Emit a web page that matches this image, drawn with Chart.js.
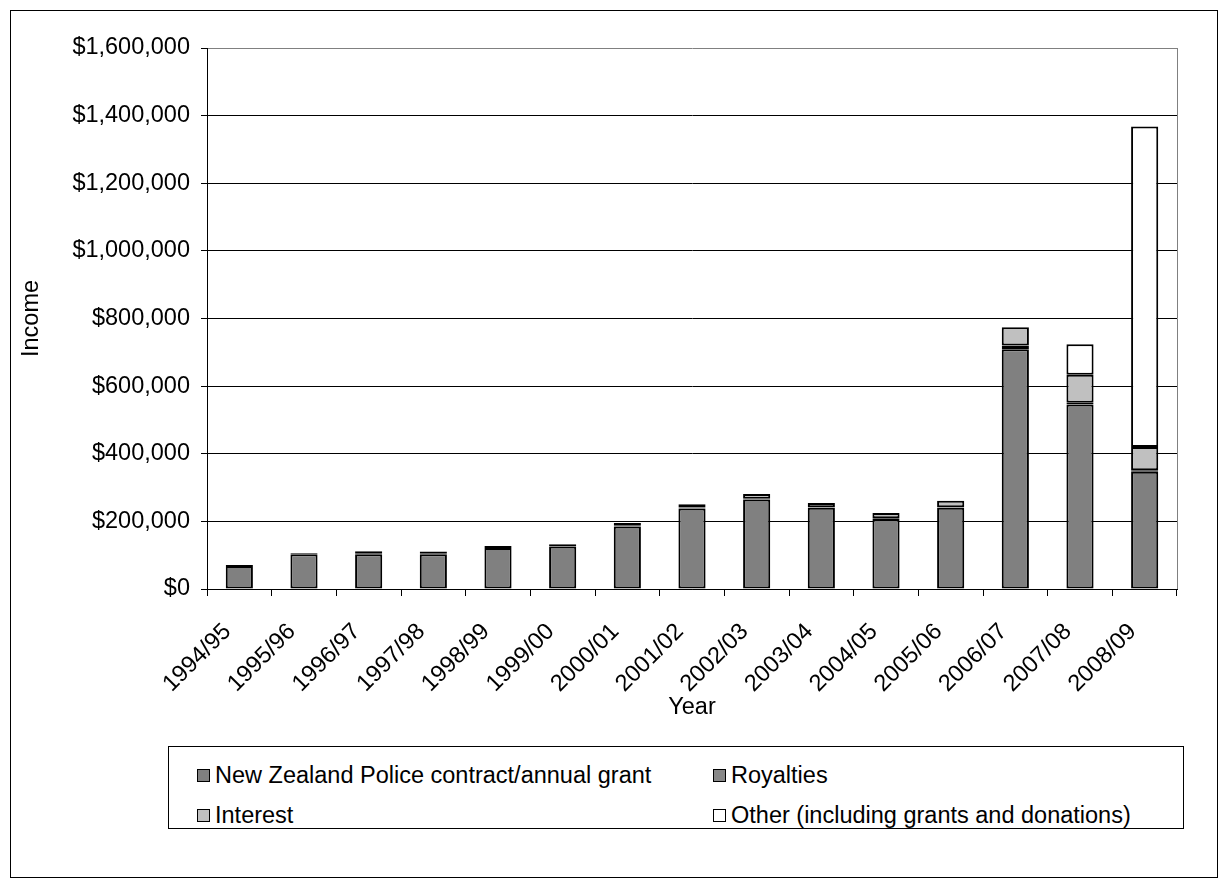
<!DOCTYPE html>
<html>
<head>
<meta charset="utf-8">
<title>Income by Year</title>
<script src="https://cdn.jsdelivr.net/npm/chart.js@4/dist/chart.umd.min.js"></script>
<style>
  html, body { margin: 0; padding: 0; background: #fff; }
  body { width: 1228px; height: 889px; position: relative; overflow: hidden;
         font-family: "Liberation Sans", Arial, sans-serif; }
  #frame { position: absolute; left: 10px; top: 10px; width: 1208px; height: 868px;
           border: 1px solid #000; box-sizing: border-box; }
  #chart { position: absolute; left: 0; top: 0; }
  #legend { position: absolute; left: 168px; top: 746px; width: 1016px; height: 83px;
            border: 1px solid #000; box-sizing: border-box; background: #fff; }
  .item { position: absolute; display: flex; align-items: center; font-size: 23.5px;
          color: #000; white-space: nowrap; line-height: 28px; }
  .swatch { width: 11px; height: 11px; border: 1.5px solid #000; margin-right: 5px; }
</style>
</head>
<body>
<div id="frame"></div>
<canvas id="chart" width="1228" height="889"></canvas>
<div id="legend"></div>
<script>
// Financial years
const years = ['1994/95', '1995/96', '1996/97', '1997/98', '1998/99', '1999/00', '2000/01',
  '2001/02', '2002/03', '2003/04', '2004/05', '2005/06', '2006/07', '2007/08', '2008/09'];

// Income sources, in dollars
const policeGrant = [68000, 103000, 103000, 103000, 121000, 126000, 185000, 238000,
  265000, 240000, 207000, 240000, 709000, 546000, 347000];
const royalties = [3000, 3000, 3000, 3000, 6000, 6000, 2000, 3000,
  2000, 2000, 2000, 2000, 11000, 5000, 4000];
const interest = [0, 0, 6000, 5000, 0, 0, 8000, 10000,
  14000, 12000, 16000, 19000, 54000, 83000, 69000];
const other = [0, 0, 0, 0, 0, 0, 0, 0,
  0, 0, 0, 0, 0, 90000, 948000];

// Value axis ticks
const yTicks = [0, 200000, 400000, 600000, 800000, 1000000, 1200000, 1400000, 1600000];

const seriesNames = ['New Zealand Police contract/annual grant', 'Royalties', 'Interest',
  'Other (including grants and donations)'];
const seriesColors = ['#808080', '#888888', '#c0c0c0', '#ffffff'];
const seriesData = [policeGrant, royalties, interest, other];

const FONT = '"Liberation Sans", Arial, sans-serif';
const FONT_SIZE = 23.5;
const money = v => '$' + v.toLocaleString('en-US');

// Grey outline on the right side of the plot area
const plotFrame = {
  id: 'plotFrame',
  afterDatasetsDraw(chart) {
    const { ctx, chartArea: a } = chart;
    ctx.save();
    ctx.strokeStyle = '#808080';
    ctx.lineWidth = 1;
    ctx.beginPath();
    ctx.moveTo(Math.round(a.right) + 0.5, a.top);
    ctx.lineTo(Math.round(a.right) + 0.5, a.bottom);
    ctx.stroke();
    ctx.restore();
  }
};

const chart = new Chart(document.getElementById('chart'), {
  type: 'bar',
  data: {
    labels: years,
    datasets: seriesData.map((d, i) => ({
      label: seriesNames[i],
      data: d,
      backgroundColor: seriesColors[i],
      borderColor: '#000',
      borderWidth: 2,
      borderSkipped: false,
      categoryPercentage: 1,
      barPercentage: 0.42
    }))
  },
  options: {
    responsive: false,
    animation: false,
    layout: { padding: { left: 0, top: 48, right: 51, bottom: 167 } },
    plugins: { legend: { display: false }, tooltip: { enabled: false } },
    scales: {
      x: {
        stacked: true,
        grid: { offset: true, drawOnChartArea: false, drawTicks: true, tickLength: 7,
                color: '#000', lineWidth: 1 },
        border: { color: '#000', width: 1 },
        ticks: { color: '#000', font: { family: FONT, size: FONT_SIZE }, minRotation: 45,
                 maxRotation: 45, padding: 22, labelOffset: -12, autoSkip: false },
        title: { display: true, text: 'Year', color: '#000',
                 font: { family: FONT, size: FONT_SIZE }, padding: { top: 0, bottom: 0 } },
        afterFit(scale) { scale.height = 133; }
      },
      y: {
        stacked: true,
        min: yTicks[0],
        max: yTicks[yTicks.length - 1],
        afterBuildTicks(scale) { scale.ticks = yTicks.map(v => ({ value: v })); },
        grid: {
          color: c => (c.tick && c.tick.value === yTicks[yTicks.length - 1]) ? '#808080' : '#000',
          tickColor: '#000', tickLength: 6, lineWidth: 1
        },
        border: { color: '#000', width: 1 },
        ticks: { color: '#000', font: { family: FONT, size: FONT_SIZE }, padding: 11,
                 callback: v => money(v) },
        title: { display: true, text: 'Income', color: '#000',
                 font: { family: FONT, size: FONT_SIZE }, padding: { top: 17, bottom: 0 } },
        afterFit(scale) { scale.width = 207; }
      }
    }
  },
  plugins: [plotFrame]
});

// Legend box: two columns, two rows
const legend = document.getElementById('legend');
const colX = [28, 544];
const rowY = [14, 54];
chart.data.datasets.forEach((ds, i) => {
  const el = document.createElement('div');
  el.className = 'item';
  el.style.left = colX[i % 2] + 'px';
  el.style.top = rowY[Math.floor(i / 2)] + 'px';
  const sw = document.createElement('span');
  sw.className = 'swatch';
  sw.style.background = ds.backgroundColor;
  const tx = document.createElement('span');
  tx.textContent = ds.label;
  el.appendChild(sw);
  el.appendChild(tx);
  legend.appendChild(el);
});
</script>
</body>
</html>
